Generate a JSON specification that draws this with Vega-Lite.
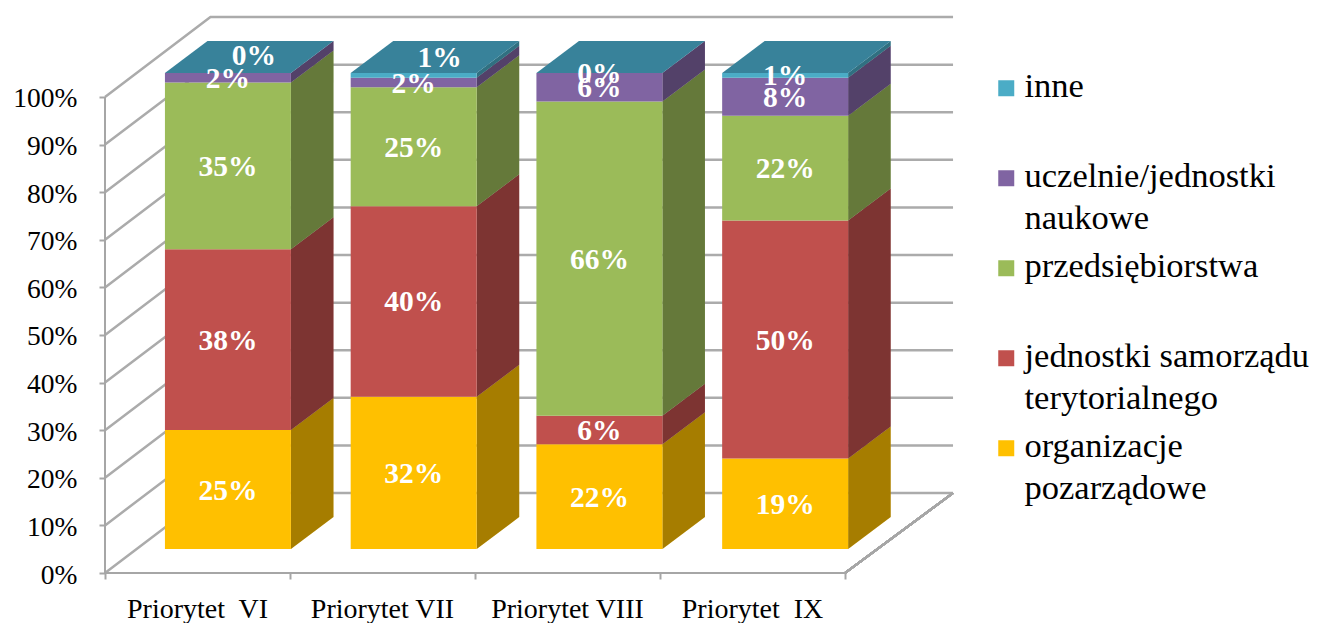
{
"$schema":"https://vega.github.io/schema/vega-lite/v6.json",
"width":1216,"height":573,"autosize":"none","padding":{"left":105,"top":0,"right":0,"bottom":50},
"background":"white",
"config":{"view":{"stroke":null},"font":"Liberation Serif"},
"datasets":{"siatka":[{"wartosc":0},{"wartosc":10},{"wartosc":20},{"wartosc":30},{"wartosc":40},{"wartosc":50},{"wartosc":60},{"wartosc":70},{"wartosc":80},{"wartosc":90},{"wartosc":100}]},
"data":{"values":[
{"priorytet":"Priorytet VI","kategoria":"organizacje pozarządowe","udzial":25},
{"priorytet":"Priorytet VI","kategoria":"jednostki samorządu terytorialnego","udzial":38},
{"priorytet":"Priorytet VI","kategoria":"przedsiębiorstwa","udzial":35},
{"priorytet":"Priorytet VI","kategoria":"uczelnie/jednostki naukowe","udzial":2},
{"priorytet":"Priorytet VI","kategoria":"inne","udzial":0},
{"priorytet":"Priorytet VII","kategoria":"organizacje pozarządowe","udzial":32},
{"priorytet":"Priorytet VII","kategoria":"jednostki samorządu terytorialnego","udzial":40},
{"priorytet":"Priorytet VII","kategoria":"przedsiębiorstwa","udzial":25},
{"priorytet":"Priorytet VII","kategoria":"uczelnie/jednostki naukowe","udzial":2},
{"priorytet":"Priorytet VII","kategoria":"inne","udzial":1},
{"priorytet":"Priorytet VIII","kategoria":"organizacje pozarządowe","udzial":22},
{"priorytet":"Priorytet VIII","kategoria":"jednostki samorządu terytorialnego","udzial":6},
{"priorytet":"Priorytet VIII","kategoria":"przedsiębiorstwa","udzial":66},
{"priorytet":"Priorytet VIII","kategoria":"uczelnie/jednostki naukowe","udzial":6},
{"priorytet":"Priorytet VIII","kategoria":"inne","udzial":0},
{"priorytet":"Priorytet IX","kategoria":"organizacje pozarządowe","udzial":19},
{"priorytet":"Priorytet IX","kategoria":"jednostki samorządu terytorialnego","udzial":50},
{"priorytet":"Priorytet IX","kategoria":"przedsiębiorstwa","udzial":22},
{"priorytet":"Priorytet IX","kategoria":"uczelnie/jednostki naukowe","udzial":8},
{"priorytet":"Priorytet IX","kategoria":"inne","udzial":1}
]},
"transform":[
{"calculate":"indexof(['Priorytet VI','Priorytet VII','Priorytet VIII','Priorytet IX'],datum.priorytet)","as":"i"},
{"calculate":"indexof(['organizacje pozarządowe','jednostki samorządu terytorialnego','przedsiębiorstwa','uczelnie/jednostki naukowe','inne'],datum.kategoria)","as":"kolejnosc"},
{"stack":"udzial","groupby":["priorytet"],"sort":[{"field":"kolejnosc","order":"ascending"}],"as":["s0","s1"]},
{"calculate":"datum.s0+5.04","as":"dol"},
{"calculate":"datum.s1+5.04","as":"gora"},
{"calculate":"datum.i*1.004+0.324","as":"lewo"},
{"calculate":"datum.lewo+0.681","as":"prawo"},
{"calculate":"(datum.lewo+datum.prawo)/2","as":"srodek"},
{"calculate":"(datum.dol+datum.gora)/2","as":"pol"},
{"calculate":"datum.udzial+'%'","as":"etykieta"}
],
"layer":[
{"data":{"name":"siatka"},
 "transform":[{"calculate":"[0,1,2]","as":"etap"},{"flatten":["etap"]},
  {"calculate":"datum.etap==0?0:(datum.etap==1?0.57:4.584)","as":"gx"},
  {"calculate":"datum.wartosc+(datum.etap==0?0:16.8)","as":"gy"}],
 "mark":{"type":"line","color":"#ABABAB","strokeWidth":2.5},
 "encoding":{
  "x":{"field":"gx","type":"quantitative","scale":{"domain":[0,6.573],"nice":false,"zero":false},
   "axis":{"title":null,"grid":false,"domain":false,"values":[0,1,2,3,4],"tickSize":6,"tickWidth":2,"tickColor":"#A6A6A6","labelFontSize":28,"labelColor":"black","labelPadding":16,"labelOffset":92,"labelFlush":false,"labelBound":false,"labelOverlap":false,"labelExpr":"['Priorytet\u00a0 VI','Priorytet VII','Priorytet VIII','Priorytet\u00a0 IX',''][datum.value]"}},
  "y":{"field":"gy","type":"quantitative","scale":{"domain":[0,120.378],"nice":false,"zero":false},
   "axis":{"title":null,"grid":false,"domain":false,"values":[0,10,20,30,40,50,60,70,80,90,100],"tickSize":6,"tickWidth":2,"tickColor":"#A6A6A6","labelFontSize":27.5,"labelColor":"black","labelPadding":22,"labelOffset":2,"labelOverlap":false,"labelBound":false,"labelFlush":false,"labelExpr":"datum.value+'%'"}},
  "detail":{"field":"wartosc"}}},
{"mark":{"type":"rule","color":"#A6A6A6","strokeWidth":2},"encoding":{"x":{"datum":0},"y":{"datum":0},"y2":{"datum":100}}},
{"mark":{"type":"rule","color":"#A6A6A6","strokeWidth":2},"encoding":{"x":{"datum":0},"x2":{"datum":4},"y":{"datum":0}}},
{"mark":{"type":"rule","color":"#A6A6A6","strokeWidth":2},"encoding":{"x":{"datum":4},"x2":{"datum":4.584},"y":{"datum":0},"y2":{"datum":16.8}}},
{"transform":[{"calculate":"[0,1]","as":"d"},{"flatten":["d"]},
  {"calculate":"datum.prawo+datum.d*0.23","as":"bx"},{"calculate":"datum.dol+datum.d*6.72","as":"by0"},{"calculate":"datum.gora+datum.d*6.72","as":"by1"}],
 "layer":[
 {"mark":{"type":"area"},"encoding":{"x":{"field":"bx","type":"quantitative"},"y":{"field":"by0","type":"quantitative","stack":null},"y2":{"field":"by1"},
  "color":{"field":"kategoria","type":"nominal",
   "scale":{"domain":["inne","uczelnie/jednostki naukowe","przedsiębiorstwa","jednostki samorządu terytorialnego","organizacje pozarządowe"],"range":["#4BACC6","#8064A2","#9BBB59","#C0504D","#FFC000"]},
   "legend":{"title":null,"orient":"none","legendX":884,"legendY":71,"symbolType":"square","symbolSize":256,"symbolStrokeWidth":0,"symbolOpacity":1,"labelFontSize":34.5,"labelColor":"black","labelOffset":1,"labelLimit":400,"gridAlign":"all","rowPadding":13,"padding":0,
    "labelExpr":"{'uczelnie/jednostki naukowe':['uczelnie/jednostki','naukowe'],'jednostki samorządu terytorialnego':['jednostki samorządu','terytorialnego'],'organizacje pozarządowe':['organizacje','pozarządowe']}[datum.label]||datum.label",
    "labelBaseline":"top",
    "encode":{"labels":{"update":{"dy":{"value":-18},"lineHeight":{"value":42}}}}}},"detail":{"field":"priorytet"}}},
 {"mark":{"type":"area","color":"black","opacity":0.35},"encoding":{"x":{"field":"bx","type":"quantitative"},"y":{"field":"by0","type":"quantitative","stack":null},"y2":{"field":"by1"},
  "detail":[{"field":"priorytet"},{"field":"kategoria"}]}}
 ]},
{"transform":[{"filter":"datum.kategoria=='inne'"},{"calculate":"[0,1]","as":"d"},{"flatten":["d"]},
  {"calculate":"datum.lewo+datum.d*0.23","as":"tx0"},{"calculate":"datum.prawo+datum.d*0.23","as":"tx1"},{"calculate":"105.04+datum.d*6.72","as":"ty"}],
 "mark":{"type":"area","orient":"horizontal","color":"#38829A"},
 "encoding":{"x":{"field":"tx0","type":"quantitative","stack":null},"x2":{"field":"tx1"},"y":{"field":"ty","type":"quantitative"},"detail":{"field":"priorytet"}}},
{"mark":{"type":"rect"},
 "encoding":{"x":{"field":"lewo","type":"quantitative"},"x2":{"field":"prawo"},"y":{"field":"dol","type":"quantitative"},"y2":{"field":"gora"},
  "color":{"field":"kategoria","type":"nominal"}}},
{"transform":[{"filter":"!(datum.kategoria=='inne' && datum.i<2)"}],
 "mark":{"type":"text","color":"white","fontWeight":"bold","fontSize":29.5,"dy":1},
 "encoding":{"x":{"field":"srodek","type":"quantitative"},"y":{"field":"pol","type":"quantitative"},"text":{"field":"etykieta"}}},
{"transform":[{"filter":"datum.kategoria=='inne' && datum.i<2"}],
 "mark":{"type":"text","color":"white","fontWeight":"bold","fontSize":29.5,"dx":26,"dy":-17},
 "encoding":{"x":{"field":"srodek","type":"quantitative"},"y":{"field":"pol","type":"quantitative"},"text":{"field":"etykieta"}}}
]
}
